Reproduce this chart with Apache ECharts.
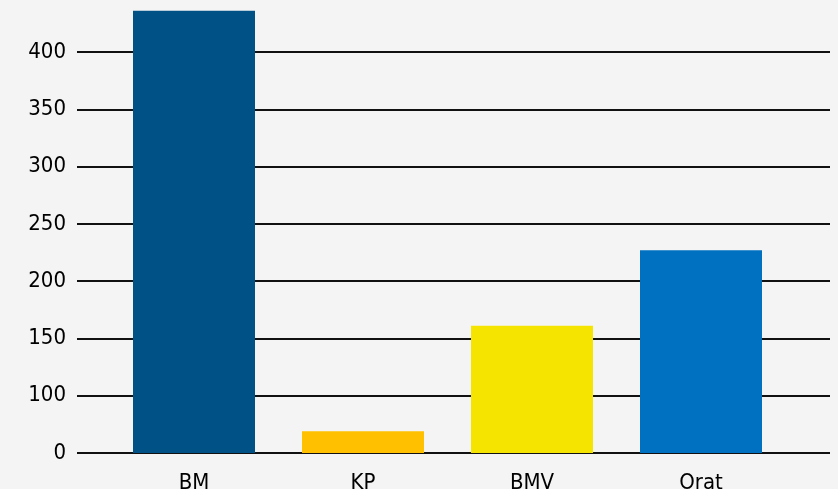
<!DOCTYPE html>
<html lang="en">

<head>
    <meta charset="UTF-8">
    <title>Chart</title>
    <script src="https://cdn.jsdelivr.net/npm/echarts@6/dist/echarts.min.js"></script>
    <style>
        html, body {
            margin: 0;
            padding: 0;
            background: #f4f4f4;
        }

        #chart {
            width: 838px;
            height: 489px;
        }
    </style>
</head>

<body>
    <div id="chart"></div>

    <script>
        // data
        var categories = ['BM', 'KP', 'BMV', 'Orat'];
        var values = [436, 69, 161, 227];
        var barColors = ['#005185', '#ffc000', '#f5e300', '#0070c0'];
        // ticks as printed on the axis (the lowest line is printed as 0)
        var tickValues = [50, 100, 150, 200, 250, 300, 350, 400];
        var tickLabels = ['0', '100', '150', '200', '250', '300', '350', '400'];

        var chart = echarts.init(document.getElementById('chart'));

        var seriesData = values.map(function(v, i) {
            return { value: v, itemStyle: { color: barColors[i] } };
        });

        var labelFont = 'DejaVu Sans Condensed';

        var option = {
            backgroundColor: '#f4f4f4',
            animation: false,
            grid: [
                // grid for the horizontal lines and y labels
                { left: 77, right: 8, top: 52, bottom: 36, outerBoundsMode: 'none' },
                // grid for the bars, same scale, a little taller so the big bar fits
                { left: 109.5, right: 52.5, top: 6.1, bottom: 36, outerBoundsMode: 'none' }
            ],
            xAxis: [{
                gridIndex: 0,
                type: 'category',
                data: categories,
                show: false
            }, {
                gridIndex: 1,
                type: 'category',
                data: categories,
                axisLine: { show: false },
                axisTick: { show: false },
                axisLabel: {
                    margin: 19,
                    fontFamily: labelFont,
                    fontSize: 22,
                    color: '#000'
                }
            }],
            yAxis: [{
                gridIndex: 0,
                type: 'value',
                min: 50,
                max: 400,
                interval: 50,
                axisLine: { show: false },
                axisTick: { show: false },
                axisLabel: {
                    margin: 11,
                    fontFamily: labelFont,
                    fontSize: 22,
                    color: '#000',
                    formatter: function(v) {
                        var i = tickValues.indexOf(v);
                        return i >= 0 ? tickLabels[i] : '';
                    }
                },
                splitLine: {
                    show: true,
                    lineStyle: { color: '#111', width: 2 }
                }
            }, {
                gridIndex: 1,
                type: 'value',
                min: 50,
                max: 440,
                show: false,
                splitLine: { show: false }
            }],
            series: [{
                type: 'bar',
                xAxisIndex: 1,
                yAxisIndex: 1,
                data: seriesData,
                barWidth: 122
            }]
        };

        chart.setOption(option);
    </script>
</body>

</html>
